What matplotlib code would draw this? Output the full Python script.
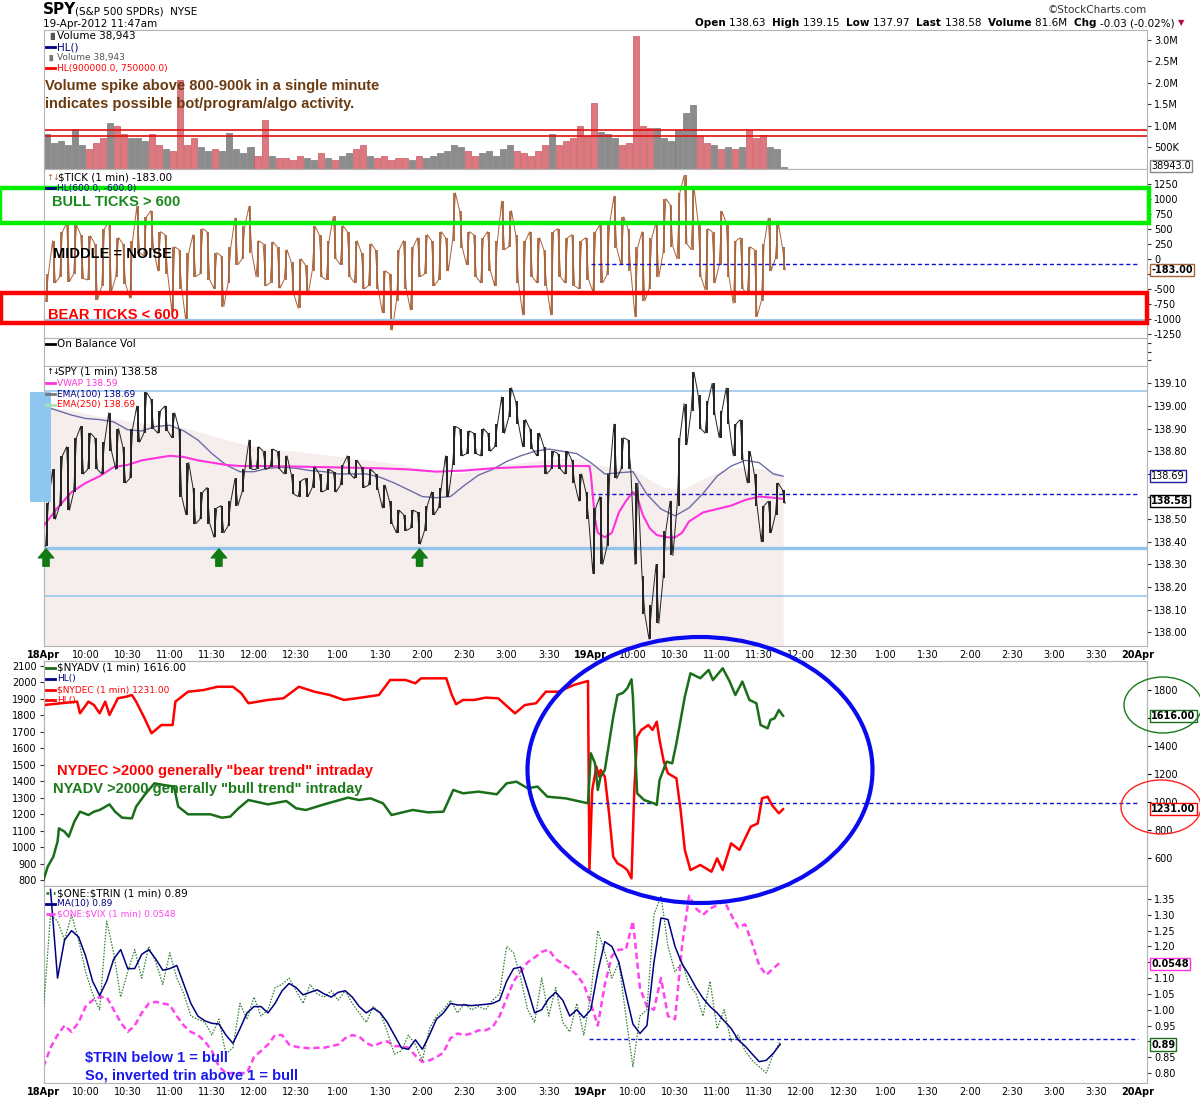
import numpy as np
import matplotlib
matplotlib.use("Agg")
import matplotlib.pyplot as plt
from matplotlib.patches import Rectangle, Ellipse
from matplotlib.lines import Line2D

plt.rcParams["font.family"] = ["DejaVu Sans"]
NARROW = ["Liberation Sans Narrow", "Liberation Sans", "DejaVu Sans"]

W, H = 1200, 1100

# ---------------------------------------------------------------------------
# values read off the 1-min StockCharts picture, sampled every 5 minutes
# time = minutes after 18-Apr 9:30, the 19-Apr session opens at t = 390
# ---------------------------------------------------------------------------
SESSION = 390

# volume, millions (peak-ish minute of each 5-min block)
vol_d1 = [0.80, 0.60, 0.65, 0.55, 0.93, 0.55, 0.45, 0.60, 0.70, 1.07,
          0.98, 0.80, 0.70, 0.72, 0.65, 0.80, 0.55, 0.45, 0.40, 2.06,
          0.55, 0.70, 0.50, 0.40, 0.45, 0.40, 0.82, 0.45, 0.35, 0.50,
          0.30, 1.14, 0.30, 0.25, 0.25, 0.20, 0.30, 0.25, 0.20, 0.35,
          0.25, 0.20, 0.30, 0.35, 0.45, 0.55, 0.30, 0.25, 0.30, 0.20,
          0.25, 0.25, 0.20, 0.30, 0.25, 0.30, 0.35, 0.40, 0.55, 0.50,
          0.40, 0.30, 0.35, 0.40, 0.30, 0.45, 0.55, 0.40, 0.35, 0.30,
          0.40, 0.55, 0.80, 0.55, 0.65, 0.70, 1.00, 0.75]
vol_d2 = [1.52, 0.85, 0.80, 0.70, 0.55, 0.60, 3.08, 1.00, 0.95, 0.95,
          0.70, 0.65, 0.90, 1.30, 1.47, 0.75, 0.60, 0.55, 0.45, 0.50,
          0.45, 0.50, 0.90, 0.70, 0.78, 0.50, 0.45, 0.04]

# $TICK high / low of each 5-min block
tick_hi_d1 = [-250, 300, 450, 590, 560, 400, 380, 250, 500, 620,
              350, 250, 300, 870, 700, 800, 450, 400, 200, 150,
              100, 400, 500, 450, 100, 50, 200, 678, 550, 872,
              300, 250, 280, 200, 150, -50, 0, -100, 539, 400,
              300, 706, 550, 450, 300, 100, 250, 150, -200, -250,
              150, 300, 200, 350, 400, 300, 450, 350, 1094, 800,
              450, 400, 350, 450, 300, 956, 800, 400, 300, 450,
              350, 150, 450, 500, 350, 400, 300, 350]
tick_lo_d1 = [-710, -400, -300, -380, -250, -330, -350, -680, -450, -540,
              -300, -420, -656, 100, 50, 150, -200, -250, -880, -500,
              -1044, -300, -250, -350, -500, -794, -400, -100, 0, 100,
              -300, -450, -400, -489, -350, -600, -822, -600, -200, -300,
              -350, 0, -100, -300, -400, -500, -450, -500, -900, -1183,
              -700, -500, -850, -300, -250, -450, -350, -200, 300, 178,
              -100, -300, -400, -200, -450, 150, 200, -400, -933, -300,
              -400, -450, -933, -300, -400, -450, -500, -350]
tick_hi_d2 = [450, 567, 600, 1039, 700, 500, 200, 450, 350, 600,
              1000, 900, 1100, 1389, 1205, 600, 500, 450, 789, 600,
              300, 350, 200, 150, 250, 678, 600, 200]
tick_lo_d2 = [-550, -400, -267, 178, -100, -200, -961, -700, -500, -300,
              100, 200, 0, 250, 150, -300, -517, -400, -100, -300,
              -739, -500, -600, -961, -700, -200, 0, -183]

# SPY high / low of each 5-min block
spy_hi_d1 = [138.57, 138.72, 138.78, 138.82, 138.86, 138.91, 138.88, 138.86, 138.84, 138.97,
             138.90, 138.82, 138.90, 139.00, 139.06, 139.03, 138.98, 139.00, 138.97, 138.90,
             138.75, 138.64, 138.62, 138.64, 138.55, 138.56, 138.58, 138.68, 138.72, 138.85,
             138.82, 138.80, 138.81, 138.80, 138.78, 138.70, 138.67, 138.68, 138.73, 138.70,
             138.72, 138.71, 138.74, 138.78, 138.76, 138.73, 138.72, 138.70, 138.65, 138.58,
             138.54, 138.52, 138.54, 138.53, 138.56, 138.62, 138.64, 138.78, 138.91, 138.90,
             138.89, 138.88, 138.90, 138.88, 138.92, 139.04, 139.08, 139.02, 138.94, 138.90,
             138.88, 138.82, 138.80, 138.79, 138.80, 138.76, 138.70, 138.62]
spy_lo_d1 = [138.38, 138.50, 138.56, 138.54, 138.62, 138.70, 138.72, 138.72, 138.70, 138.80,
             138.72, 138.66, 138.68, 138.84, 138.88, 138.90, 138.88, 138.89, 138.86, 138.60,
             138.52, 138.48, 138.50, 138.48, 138.42, 138.44, 138.47, 138.56, 138.62, 138.72,
             138.72, 138.72, 138.73, 138.72, 138.70, 138.61, 138.60, 138.60, 138.64, 138.62,
             138.63, 138.62, 138.65, 138.70, 138.68, 138.64, 138.65, 138.63, 138.55, 138.48,
             138.44, 138.45, 138.46, 138.39, 138.45, 138.52, 138.55, 138.60, 138.74, 138.78,
             138.79, 138.79, 138.78, 138.80, 138.82, 138.88, 138.95, 138.92, 138.82, 138.81,
             138.78, 138.70, 138.72, 138.72, 138.70, 138.66, 138.58, 138.50]
spy_hi_d2 = [138.55, 138.60, 138.70, 138.92, 138.86, 138.85, 138.66, 138.25, 138.12, 138.30,
             138.45, 138.58, 138.86, 139.01, 139.15, 139.05, 139.02, 139.10, 138.98, 139.08,
             138.92, 138.94, 138.80, 138.70, 138.56, 138.58, 138.66, 138.63]
spy_lo_d2 = [138.26, 138.30, 138.38, 138.68, 138.72, 138.72, 138.30, 138.08, 137.97, 138.04,
             138.24, 138.34, 138.56, 138.83, 138.98, 138.90, 138.88, 138.96, 138.86, 138.92,
             138.78, 138.76, 138.66, 138.56, 138.40, 138.44, 138.52, 138.57]

vwap_t = [0, 10, 20, 30, 40, 50, 60, 70, 80, 90, 100, 110, 120, 130, 140, 160, 200,
          240, 260, 280, 300, 320, 340, 360, 380, 389,
          390, 393, 395, 400, 405, 410, 415, 420, 423, 427, 432, 437, 445, 450,
          455, 460, 465, 470, 480, 490, 500, 510, 520, 527]
vwap = [138.47, 138.55, 138.62, 138.66, 138.69, 138.73, 138.74, 138.76, 138.77, 138.78,
        138.775, 138.76, 138.75, 138.74, 138.735, 138.735, 138.73, 138.725, 138.72, 138.71,
        138.715, 138.725, 138.73, 138.735, 138.735, 138.735,
        138.70, 138.50, 138.44, 138.42, 138.44, 138.53, 138.58, 138.62, 138.60, 138.52,
        138.46, 138.43, 138.42, 138.42, 138.44, 138.49, 138.51, 138.53, 138.545, 138.56,
        138.585, 138.60, 138.595, 138.59]

ema100_t = list(range(0, 521, 10)) + [527]
ema100 = [139.00, 138.98, 138.96, 138.945, 138.94, 138.93, 138.895, 138.89, 138.91, 138.915,
          138.89, 138.85, 138.79, 138.74, 138.71, 138.71, 138.725, 138.73, 138.725, 138.715,
          138.71, 138.70, 138.70, 138.70, 138.685, 138.66, 138.63, 138.60, 138.595, 138.60,
          138.65, 138.695, 138.72, 138.755, 138.78, 138.80, 138.81, 138.80, 138.79, 138.75,
          138.70, 138.705, 138.71, 138.61, 138.545, 138.515, 138.55, 138.614, 138.69, 138.735,
          138.76, 138.75, 138.70, 138.69]

ema250_t = [0, 20, 40, 60, 80, 100, 120, 140, 160, 180, 200, 220, 240, 260, 280, 300,
            320, 340, 360, 380, 390, 400, 420, 440, 455, 470, 485, 500, 515, 527]
ema250 = [139.00, 138.98, 138.955, 138.935, 138.92, 138.905, 138.87, 138.835, 138.81, 138.80,
          138.785, 138.77, 138.755, 138.735, 138.705, 138.705, 138.735, 138.75, 138.765, 138.77,
          138.745, 138.735, 138.72, 138.645, 138.63, 138.68, 138.72, 138.73, 138.72, 138.70]

spy_levels = [139.065, 138.163]        # thin light-blue lines
spy_support = 138.374                  # thick light-blue line
support_touch_t = [1.8, 125, 268]      # green arrows at the lows
spy_prev = 138.61

nyadv_t = [0, 3, 7, 10, 11, 15, 18, 22, 26, 32, 36, 40, 47, 51, 56, 63, 66, 72, 79, 86,
           93, 96, 103, 119, 127, 133, 139, 146, 160, 173, 180, 187, 200, 217, 225, 233,
           242, 248, 258, 263, 274, 285, 292, 299, 310, 323, 330, 337, 345, 352, 359, 372,
           388, 390, 393, 395, 397, 400, 403, 406, 409, 413, 416, 419, 420, 423, 428, 435,
           437, 439, 444, 448, 451, 454, 457, 461, 468, 474, 477, 484, 489, 493, 498, 503,
           508, 511, 516, 518, 521, 524, 527]
nyadv = [443, 538, 609, 717, 812, 788, 752, 860, 931, 907, 931, 943, 983, 931, 888, 883, 967,
         1050, 1133, 1121, 1110, 967, 912, 912, 888, 895, 955, 1014, 983, 1007, 955, 943, 983,
         1031, 1014, 1026, 990, 907, 931, 943, 926, 931, 1086, 1062, 1074, 1055, 1133, 1145,
         1098, 1110, 1038, 1026, 991,
         1348, 1276, 1086, 1181, 1229, 1419, 1609, 1764, 1780, 1812, 1876, 1752, 1062, 1014,
         990, 979, 1157, 1288, 1276, 1419, 1586, 1752, 1919, 1884, 1943, 1871, 1955, 1860,
         1764, 1860, 1729, 1705, 1550, 1526, 1586, 1598, 1657, 1616]
nyadv_prev = 991

nydec_t = [0, 24, 26, 32, 36, 40, 44, 47, 53, 59, 63, 66, 72, 77, 84, 92, 94, 103, 114, 124,
           135, 141, 146, 160, 171, 182, 193, 204, 214, 223, 231, 239, 247, 258, 265, 269,
           277, 287, 291, 294, 299, 307, 315, 324, 332, 336, 343, 351, 358, 367, 378, 388,
           389, 391, 394, 396, 397, 400, 403, 406, 409, 413, 416, 419, 421, 423, 426, 431,
           434, 437, 439, 442, 445, 451, 454, 457, 461, 468, 476, 480, 484, 490, 496, 500,
           504, 509, 512, 516, 519, 524, 527]
nydec = [1862, 1883, 1812, 1883, 1862, 1812, 1883, 1802, 1903, 1913, 1923, 1883, 1782, 1691,
         1741, 1741, 1883, 1943, 1953, 1973, 1973, 1933, 1873, 1893, 1903, 1973, 1943, 1923,
         1893, 1903, 1913, 1923, 2014, 2014, 1994, 2024, 2024, 2024, 1923, 1867, 1893, 1893,
         1907, 1903, 1842, 1812, 1862, 1873, 1943, 1943, 1984, 2008,
         862, 1347, 1489, 1428, 1469, 1428, 1206, 943, 903, 883, 862, 812, 1347, 1670, 1711,
         1741, 1711, 1761, 1650, 1519, 1448, 1418, 1226, 984, 862, 893, 852, 933, 862, 1024,
         984, 1055, 1125, 1145, 1297, 1307, 1257, 1206, 1231]
nydec_last_px = 809                    # where the 1231.00 tag sits

# $TRIN, its MA(10) and the $ONE:$VIX overlay (drawn on the TRIN scale)
trin_d1 = [1.00, 1.30, 1.28, 1.22, 1.30, 1.22, 1.12, 1.05, 1.00, 1.28,
           1.18, 1.04, 1.12, 1.19, 1.10, 1.20, 1.15, 1.08, 1.18, 1.10,
           1.05, 0.98, 0.97, 0.96, 0.92, 0.97, 0.86, 0.88, 1.02, 0.97,
           1.04, 0.98, 1.00, 1.07, 1.08, 1.10, 1.06, 1.02, 1.08, 1.05,
           1.04, 1.06, 1.03, 1.06, 1.02, 0.99, 0.96, 1.01, 0.99, 0.93,
           0.86, 0.87, 0.92, 0.89, 0.84, 0.94, 0.98, 1.00, 1.03, 0.99,
           1.02, 1.00, 1.01, 1.00, 1.03, 1.05, 1.20, 1.18, 1.10, 1.00,
           0.96, 1.10, 0.98, 1.07, 0.96, 0.93, 1.02, 0.92]
trin_d2 = [1.05, 1.25, 1.18, 1.10, 1.15, 0.98, 0.82, 0.98, 1.00, 1.30,
           1.36, 1.20, 1.12, 1.15, 1.08, 1.05, 0.98, 1.09, 0.94, 1.00,
           0.90, 0.92, 0.87, 0.84, 0.82, 0.80, 0.86, 0.90]
ma_d1 = [1.38, 1.10, 1.22, 1.25, 1.23, 1.17, 1.09, 1.045, 1.09, 1.16,
         1.19, 1.13, 1.13, 1.175, 1.19, 1.16, 1.125, 1.13, 1.14, 1.08,
         1.02, 0.98, 0.965, 0.957, 0.955, 0.92, 0.894, 0.94, 0.99, 1.01,
         1.01, 0.99, 1.02, 1.06, 1.083, 1.07, 1.047, 1.055, 1.063, 1.05,
         1.04, 1.055, 1.06, 1.04, 1.01, 0.99, 1.005, 0.99, 0.96, 0.92,
         0.88, 0.875, 0.905, 0.875, 0.92, 0.97, 0.99, 1.02, 1.015, 1.015,
         1.013, 1.015, 1.017, 1.02, 1.03, 1.09, 1.13, 1.135, 1.065, 0.99,
         1.00, 1.035, 1.055, 1.03, 0.98, 1.00, 0.975]
ma_d2 = [1.00, 1.12, 1.215, 1.20, 1.15, 1.05, 0.955, 0.925, 0.95, 1.15,
         1.29, 1.285, 1.20, 1.145, 1.11, 1.07, 1.036, 1.01, 0.99, 0.965,
         0.941, 0.905, 0.885, 0.86, 0.836, 0.84, 0.862, 0.891]
vix_d1 = [0.82, 0.88, 0.92, 0.95, 0.93, 0.96, 1.01, 1.03, 1.04, 1.04,
          1.00, 0.96, 0.93, 0.95, 0.99, 1.02, 1.025, 1.02, 1.015, 0.98,
          0.95, 0.93, 0.92, 0.90, 0.87, 0.82, 0.80, 0.80, 0.80, 0.80,
          0.85, 0.87, 0.89, 0.92, 0.92, 0.89, 0.883, 0.88, 0.878, 0.88,
          0.88, 0.885, 0.89, 0.91, 0.92, 0.915, 0.895, 0.885, 0.895, 0.90,
          0.885, 0.885, 0.88, 0.855, 0.835, 0.84, 0.85, 0.865, 0.91, 0.925,
          0.92, 0.925, 0.935, 0.935, 0.945, 0.98, 1.035, 1.09, 1.12, 1.15,
          1.165, 1.183, 1.19, 1.16, 1.145, 1.13, 1.11, 1.08]
vix_d2 = [1.02, 0.95, 1.08, 1.17, 1.19, 1.19, 1.28, 1.07, 1.01, 1.00,
          1.10, 0.98, 0.97, 1.20, 1.36, 1.32, 1.30, 1.32, 1.33, 1.345,
          1.30, 1.26, 1.27, 1.21, 1.14, 1.11, 1.13, 1.15]
trin_prev = 0.907

time_labels = ["10:00", "10:30", "11:00", "11:30", "12:00", "12:30", "1:00",
               "1:30", "2:00", "2:30", "3:00", "3:30"]
day_labels = ["18Apr", "19Apr", "20Apr"]

# ---------------------------------------------------------------------------
fig = plt.figure(figsize=(12, 11), dpi=100)
X0, XR = 43.5, 1147.0
PPM = 42.1 / 30.0                       # pixels per minute
TMAX = (XR - X0) / PPM


def panel(top, bottom):
    ax = fig.add_axes([X0 / W, 1 - bottom / H, (XR - X0) / W, (bottom - top) / H])
    ax.set_xlim(0, TMAX)
    for s in ax.spines.values():
        s.set_color("#b4b4b4")
    ax.yaxis.tick_right()
    ax.tick_params(axis="y", which="both", direction="out", length=3, pad=2,
                   labelsize=7, colors="#333333", labelcolor="black")
    ax.tick_params(axis="x", bottom=False, labelbottom=False)
    return ax


def yticks(ax, values, fmt, hidden=()):
    ax.set_yticks(values)
    labs = []
    for v in values:
        s = fmt.format(v)
        labs.append("" if s in hidden else s)
    ax.set_yticklabels(labs)


def time_axis(ax):
    ticks = np.arange(0, 2 * SESSION + 1, 30)
    labs = [day_labels[0]] + time_labels + [day_labels[1]] + time_labels + [day_labels[2]]
    ax.set_xticks(ticks)
    ax.set_xticklabels(labs)
    ax.tick_params(axis="x", bottom=True, labelbottom=True, length=0, pad=3, labelsize=7)
    for lab in ax.get_xticklabels():
        if "Apr" in lab.get_text():
            lab.set_fontweight("bold")


def ftext(x, y, s, **kw):
    kw.setdefault("va", "center")
    kw.setdefault("ha", "left")
    return fig.text(x / W, 1 - y / H, s, parse_math=False, **kw)


def fline(x0, x1, y, color, lw=2.0, ls="-"):
    fig.add_artist(Line2D([x0 / W, x1 / W], [1 - y / H, 1 - y / H], color=color, lw=lw, ls=ls))


def legend(x, y, label, color, tcolor=None, size=7.5, ls="-", lw=2.0):
    fline(x, x + 9, y, color, lw=lw, ls=ls)
    ftext(x + 11, y, label, color=tcolor or color, fontsize=size)


def tag(ax, y, text, edge, bold=True, coords=None):
    ax.annotate(text, xy=(1.0, y), xycoords=coords or ax.get_yaxis_transform(),
                xytext=(3, 0), textcoords="offset points", va="center", ha="left",
                fontsize=7, fontweight="bold" if bold else "normal", color="black",
                bbox=dict(boxstyle="square,pad=0.12", fc="white", ec=edge, lw=1.0),
                zorder=20, annotation_clip=False)


def zigzag(t, hi, lo):
    xs, ys = [], []
    for k in range(len(t)):
        pair = (lo[k], hi[k]) if k % 2 == 0 else (hi[k], lo[k])
        xs += [t[k] - 1.0, t[k] + 1.0]
        ys += list(pair)
    return xs, ys


t_bar = np.concatenate([np.arange(0, SESSION, 5), SESSION + np.arange(0, 5 * len(vol_d2), 5)]) + 2.5
t_pt = t_bar - 2.5

# ---------------- volume ----------------
ax_v = panel(30, 168.5)
vol = np.array(vol_d1 + vol_d2)
mid = (np.array(spy_hi_d1 + spy_hi_d2) + np.array(spy_lo_d1 + spy_lo_d2)) / 2
down = np.r_[False, np.diff(mid) < 0]
vcol = np.where(down, "#dc7880", "#8c8c8c")
ax_v.bar(t_bar, vol, width=4.3, color=vcol, edgecolor=np.where(down, "#c85860", "#7a7a7a"), lw=0.5)
ax_v.axhline(0.90, color="#e01010", lw=1.2)
ax_v.axhline(0.75, color="#e01010", lw=1.2)
ax_v.set_ylim(0, 3.23)
ax_v.set_yticks([0.5, 1.0, 1.5, 2.0, 2.5, 3.0])
ax_v.set_yticklabels(["500K", "1.0M", "1.5M", "2.0M", "2.5M", "3.0M"])
tag(ax_v, 0.06, "38943.0", "#888888", bold=False)

# ---------------- $TICK ----------------
ax_t = panel(168.5, 337.5)
tk_hi = tick_hi_d1 + tick_hi_d2
tk_lo = tick_lo_d1 + tick_lo_d2
ax_t.vlines(t_bar, tk_lo, tk_hi, color="#a8623a", lw=1.3)
zx, zy = zigzag(t_bar, tk_hi, tk_lo)
ax_t.plot(zx, zy, color="#a8623a", lw=0.7)
ax_t.axhline(-1017, color="#9cc8ec", lw=1.6)
ax_t.plot([SESSION, 780], [-83, -83], color="#1010d0", lw=1.0, ls=(0, (3, 2)))
ax_t.set_ylim(-1308, 1500)
yticks(ax_t, np.arange(-1250, 1251, 250), "{}", hidden=("-250",))
tag(ax_t, -183, "-183.00", "#a8623a")
tr = ax_t.get_yaxis_transform()
ax_t.add_patch(Rectangle((-X0 / (XR - X0), 595), 1149 / (XR - X0), 583, transform=tr,
                         fill=False, ec="#00ee00", lw=3.2, clip_on=False, zorder=15))
ax_t.add_patch(Rectangle((-(X0 - 1) / (XR - X0), -1062), (1146.5 - 1) / (XR - X0), 490,
                         transform=tr, fill=False, ec="#ff0000", lw=3.2, clip_on=False, zorder=15))

# ---------------- On Balance Vol (empty) ----------------
ax_o = panel(337.5, 365.5)
ax_o.set_yticks([0.2, 0.5, 0.8])
ax_o.set_yticklabels([])
ax_o.set_ylim(0, 1)

# ---------------- SPY price ----------------
ax_p = panel(365.5, 646)
ax_p.set_ylim(137.94, 139.179)
et = np.linspace(0, 527, 400)
ax_p.fill_between(et, 137.0, np.interp(et, ema250_t, ema250), color="#f6eded", lw=0, zorder=1)
for lv in spy_levels:
    ax_p.axhline(lv, color="#93c4ec", lw=1.1, zorder=2)
ax_p.axhline(spy_support, color="#93c4ec", lw=2.4, zorder=2)
ax_p.plot([SESSION, 780], [spy_prev, spy_prev], color="#1010d0", lw=1.0, ls=(0, (3, 2)), zorder=3)
ax_p.plot(ema100_t, ema100, color="#6c6ca8", lw=1.0, zorder=4)
ax_p.plot(vwap_t, vwap, color="#ff33dd", lw=1.5, zorder=4)
p_hi = spy_hi_d1 + spy_hi_d2
p_lo = spy_lo_d1 + spy_lo_d2
ax_p.vlines(t_bar, p_lo, p_hi, color="#222222", lw=1.4, zorder=5)
zx, zy = zigzag(t_bar, p_hi, p_lo)
ax_p.plot(zx, zy, color="#222222", lw=0.7, zorder=5)
for tt in support_touch_t:
    ax_p.annotate("", xy=(tt, spy_support - 0.005), xytext=(0, -12.5),
                  textcoords="offset points",
                  arrowprops=dict(fc="#127a12", ec="#127a12", width=4.5, headwidth=11,
                                  headlength=6.5, shrink=0), zorder=6)
yticks(ax_p, np.round(np.arange(138.0, 139.11, 0.1), 2), "{:.2f}", hidden=("138.60", "138.70"))
time_axis(ax_p)
tag(ax_p, 138.69, "138.69", "#2020a0", bold=False)
tag(ax_p, 138.58, "138.58", "black")
fig.add_artist(Rectangle((30 / W, 1 - 502 / H), 21 / W, 110 / H, transform=fig.transFigure,
                         fc="#8ec6f0", ec="none", zorder=2))

# ---------------- NYADV / NYDEC ----------------
ax_d = panel(661, 886)
ax_d.yaxis.tick_left()
ax_d.tick_params(axis="y", direction="out", length=3, pad=2, labelsize=7)
ax_d.set_ylim(765.5, 2129)
ax_d.set_yticks(np.arange(800, 2101, 100))
ax_a = ax_d.twinx()
ax_a.set_xlim(0, TMAX)
for s in ax_a.spines.values():
    s.set_color("#b4b4b4")
ax_a.tick_params(axis="y", direction="out", length=3, pad=2, labelsize=7)
ax_a.set_ylim(400, 2007)
yticks(ax_a, np.arange(600, 1801, 200), "{}", hidden=("1600",))
ax_d.plot(nydec_t, nydec, color="#ff0000", lw=1.8, zorder=4)
ax_a.plot(nyadv_t, nyadv, color="#1a6e1a", lw=1.8, zorder=4)
ax_a.plot([SESSION, 780], [nyadv_prev, nyadv_prev], color="#1010d0", lw=1.0, ls=(0, (3, 2)))
tag(ax_a, 1616, "1616.00", "#1a6e1a")
tag(ax_a, 1 - (nydec_last_px - 661) / (886 - 661), "1231.00", "#ff0000", coords="axes fraction")

# ---------------- TRIN ----------------
ax_r = panel(886, 1083)
ax_r.set_ylim(0.7685, 1.391)
ax_r.plot(t_pt, trin_d1 + trin_d2, color="#2e7d2e", lw=0.9, ls=(0, (1.2, 1.2)), zorder=3)
ax_r.plot(t_pt[1:], ma_d1 + ma_d2, color="#000080", lw=1.1, zorder=4)
ax_r.plot(t_pt, vix_d1 + vix_d2, color="#ff44ee", lw=1.8, ls=(0, (2.5, 1.5)), zorder=2)
ax_r.plot([SESSION - 1, 780], [trin_prev, trin_prev], color="#1010d0", lw=1.0, ls=(0, (3, 2)))
yticks(ax_r, np.round(np.arange(0.80, 1.351, 0.05), 2), "{:.2f}", hidden=("1.15", "0.90"))
time_axis(ax_r)
tag(ax_r, 1.145, "0.0548", "#ff33dd")
tag(ax_r, 0.89, "0.89", "#1a6e1a")

# ---------------- ellipses ----------------
fig.add_artist(Ellipse((700 / W, 1 - 770 / H), 345 / W, 266 / H, transform=fig.transFigure,
                       fill=False, ec="#0a0aee", lw=3.0, zorder=30))
fig.add_artist(Ellipse((1163 / W, 1 - 705 / H), 78 / W, 56 / H, transform=fig.transFigure,
                       fill=False, ec="#1a7a1a", lw=1.0, zorder=30))
fig.add_artist(Ellipse((1161 / W, 1 - 807 / H), 80 / W, 54 / H, transform=fig.transFigure,
                       fill=False, ec="#ff2020", lw=1.0, zorder=30))

# ---------------- panel legends ----------------
ftext(47, 36, "\u2590\u258c", color="#555555", fontsize=5)
ftext(57, 36, "Volume 38,943", fontsize=7.5)
legend(46, 47, "HL()", "#000080")
ftext(47, 57.5, "\u2590\u258c", color="#777777", fontsize=4.5)
ftext(57, 57.5, "Volume 38,943", fontsize=6.5, color="#555555")
legend(46, 68, "HL(900000.0, 750000.0)", "#ff0000", size=6.5)
ftext(45, 86, "Volume spike above 800-900k in a single minute", family=NARROW,
      fontsize=10.5, fontweight="bold", color="#6b3a10")
ftext(45, 104, "indicates possible bot/program/algo activity.", family=NARROW,
      fontsize=10.5, fontweight="bold", color="#6b3a10")

ftext(46, 177, "\u2191\u2193", color="#a8623a", fontsize=6)
ftext(58, 177, "$TICK (1 min) -183.00", fontsize=7.5)
legend(46, 188, "HL(600.0, -600.0)", "#000080", size=6.5)
ftext(52, 202, "BULL TICKS > 600", family=NARROW, fontsize=10.5, fontweight="bold", color="#1a8a1a")
ftext(53, 254, "MIDDLE = NOISE", family=NARROW, fontsize=10.5, fontweight="bold", color="black")
ftext(48, 315, "BEAR TICKS < 600", family=NARROW, fontsize=10.5, fontweight="bold", color="#ff0000")

legend(46, 344, "On Balance Vol", "black")

ftext(46, 372, "\u2191\u2193", color="black", fontsize=6)
ftext(58, 372, "SPY (1 min) 138.58", fontsize=7.5)
legend(46, 383, "VWAP 138.59", "#ff33dd", size=6.5)
legend(46, 394, "EMA(100) 138.69", "#777777", tcolor="#000080", size=6.5)
legend(46, 405, "EMA(250) 138.69", "#a8e0b0", tcolor="#ff0000", size=6.5)

legend(46, 668, "$NYADV (1 min) 1616.00", "#1a6e1a", tcolor="black")
legend(46, 679, "HL()", "#000080", size=6.5)
legend(46, 690, "$NYDEC (1 min) 1231.00", "#ff0000", size=6.5)
legend(46, 700, "HL()", "#ff0000", size=6.5)
ftext(57, 771, "NYDEC >2000 generally \"bear trend\" intraday", family=NARROW,
      fontsize=10.5, fontweight="bold", color="#ff0000")
ftext(53, 789, "NYADV >2000 generally \"bull trend\" intraday", family=NARROW,
      fontsize=10.5, fontweight="bold", color="#1a7a1a")

legend(46, 893, "$ONE:$TRIN (1 min) 0.89", "#2e7d2e", tcolor="black", ls=":")
legend(46, 903.5, "MA(10) 0.89", "#000080", size=6.5)
legend(46, 914, "$ONE:$VIX (1 min) 0.0548", "#ff44ee", size=6.5, ls="--")
ftext(85, 1058, "$TRIN below 1 = bull", family=NARROW, fontsize=10.5, fontweight="bold",
      color="#1a1aee")
ftext(85, 1076, "So, inverted trin above 1 = bull", family=NARROW, fontsize=10.5,
      fontweight="bold", color="#1a1aee")

# ---------------- header ----------------
ftext(43, 10, "SPY", fontsize=11, fontweight="bold")
ftext(75, 11, "(S&P 500 SPDRs)  NYSE", fontsize=7.5)
ftext(43, 24, "19-Apr-2012 11:47am", fontsize=7.5)
ftext(1147, 10, "\u00a9StockCharts.com", fontsize=7.5, ha="right", color="#333333")

renderer = fig.canvas.get_renderer()
pieces = [("Open ", True), ("138.63  ", False), ("High ", True), ("139.15  ", False),
          ("Low ", True), ("137.97  ", False), ("Last ", True), ("138.58  ", False),
          ("Volume ", True), ("81.6M  ", False), ("Chg ", True), ("-0.03 (-0.02%)", False)]
x = 695
for s, b in pieces:
    t = ftext(x, 23, s, fontsize=7.5, fontweight="bold" if b else "normal")
    x += t.get_window_extent(renderer=renderer).width
ftext(x + 3, 23, "\u25bc", fontsize=6, color="#b01040")

fig.savefig("out.png", dpi=100)
